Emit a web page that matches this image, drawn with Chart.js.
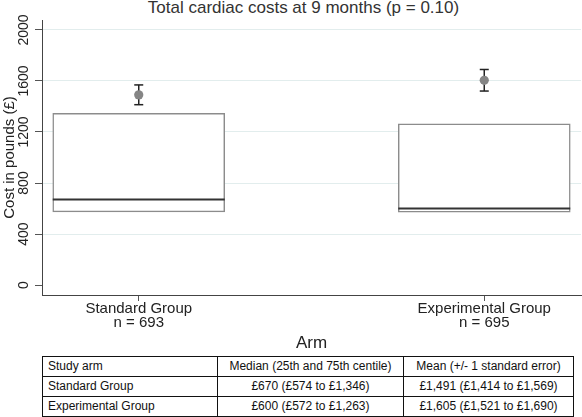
<!DOCTYPE html>
<html>
<head>
<meta charset="utf-8">
<script src="https://cdn.jsdelivr.net/npm/chart.js@4.4.1/dist/chart.umd.min.js"></script>
<style>
  body { margin: 0; background: #fff; overflow: hidden; font-family: "Liberation Sans", Arial, sans-serif; }
  #title { position: absolute; left: 0; top: -1px; width: 607px; text-align: center; font-size: 17px; line-height: 17px; color: #333; }
  #wrap { position: absolute; left: 0; top: 0; width: 582px; height: 354px; }
  #summary { position: absolute; left: 42px; top: 356px; width: 531px; table-layout: fixed; border-collapse: collapse; font-size: 12px; color: #111; }
  #summary td { border: 1px solid #111; height: 19px; padding: 0 5px; white-space: nowrap; overflow: hidden; line-height: 19px; }
  #summary td.c { text-align: center; }
</style>
</head>
<body>
<div id="title">Total cardiac costs at 9 months (p = 0.10)</div>
<div id="wrap"><canvas id="chart"></canvas></div>
<table id="summary"></table>
<script>
// Datos
const arms = ['Standard Group', 'Experimental Group'];
const nCounts = [693, 695];
const q1 = [574, 572];
const medians = [670, 600];
const q3 = [1346, 1263];
const means = [1491, 1605];
const seLow = [1414, 1521];
const seHigh = [1569, 1690];
const yTicks = [0, 400, 800, 1200, 1600, 2000];

const fontFamily = '"Liberation Sans", Arial, sans-serif';
const money = v => '£' + v.toLocaleString('en-GB');

// Barras de error: una serie por brazo
const errorSets = arms.map((a, i) => ({
    type: 'line',
    data: [{ x: i, y: seLow[i] }, { x: i, y: seHigh[i] }],
    borderColor: '#222',
    borderWidth: 1.5,
    pointStyle: 'line',
    pointRadius: 4.5,
    pointBorderColor: '#222',
    pointBorderWidth: 1.5,
    fill: false,
    order: 1
}));

const ctx = document.getElementById('chart').getContext('2d');
new Chart(ctx, {
    type: 'bar',
    data: {
        datasets: [
            {
                type: 'scatter',
                data: arms.map((a, i) => ({ x: i, y: means[i] })),
                pointRadius: 4.6,
                backgroundColor: '#858585',
                borderWidth: 0,
                order: 0
            },
            ...errorSets,
            {
                type: 'scatter',
                data: arms.map((a, i) => ({ x: i, y: medians[i] })),
                pointStyle: 'line',
                pointRadius: 86,
                borderColor: '#333',
                borderWidth: 2,
                order: 2
            },
            {
                type: 'bar',
                data: arms.map((a, i) => ({ x: i, y: [q1[i], q3[i]] })),
                backgroundColor: '#fff',
                borderColor: '#8c8c8c',
                borderWidth: 1.5,
                borderSkipped: false,
                barThickness: 172,
                order: 3
            }
        ]
    },
    options: {
        responsive: true,
        maintainAspectRatio: false,
        animation: false,
        layout: { autoPadding: false, padding: { top: 20, right: 1, left: 0, bottom: 0 } },
        plugins: { legend: { display: false }, tooltip: { enabled: false } },
        scales: {
            x: {
                type: 'linear',
                offset: false,
                min: -0.28,
                max: 1.28,
                afterBuildTicks: ax => { ax.ticks = arms.map((a, i) => ({ value: i })); },
                afterFit: ax => {
                    ax.height = 59;
                    ax.paddingLeft = 0;
                    ax.paddingRight = 0;
                },
                grid: { drawOnChartArea: false, offset: false, tickLength: 6, tickColor: '#555' },
                border: { color: '#444', width: 1 },
                ticks: {
                    autoSkip: false,
                    maxRotation: 0,
                    padding: 1,
                    color: '#222',
                    font: { family: fontFamily, size: 15, lineHeight: '14px' },
                    callback: (v, i) => [arms[i], 'n = ' + nCounts[i]]
                },
                title: {
                    display: true,
                    text: 'Arm',
                    color: '#222',
                    font: { family: fontFamily, size: 17, lineHeight: 1 },
                    padding: { top: 0, bottom: 2.5 }
                }
            },
            y: {
                min: -78,
                max: 2078,
                afterBuildTicks: ax => { ax.ticks = yTicks.map(v => ({ value: v })); },
                afterFit: ax => {
                    ax.width = 42;
                    ax.paddingTop = 0;
                    ax.paddingBottom = 0;
                },
                grid: {
                    color: c => (c.tick && c.tick.value === 0) ? 'rgba(0,0,0,0)' : '#e2eded',
                    tickLength: 7,
                    tickColor: '#555'
                },
                border: { color: '#444', width: 1 },
                ticks: {
                    autoSkip: false,
                    minRotation: 90,
                    maxRotation: 90,
                    crossAlign: 'center',
                    padding: -4.6,
                    color: '#222',
                    font: { family: fontFamily, size: 14 },
                    callback: v => String(v)
                },
                title: {
                    display: true,
                    text: 'Cost in pounds (£)',
                    color: '#222',
                    font: { family: fontFamily, size: 15, lineHeight: 1.2 },
                    padding: { top: 1, bottom: 0 }
                }
            }
        }
    }
});

// Tabla resumen bajo la grafica
const table = document.getElementById('summary');
const widths = [175, 186, 170];
let html = '<colgroup>' + widths.map(w => '<col style="width:' + w + 'px">').join('') + '</colgroup>';
html += '<tr><td>Study arm</td>' +
    '<td class="c">Median (25th and 75th centile)</td>' +
    '<td class="c">Mean (+/- 1 standard error)</td></tr>';
arms.forEach((a, i) => {
    html += '<tr><td>' + a + '</td>' +
        '<td class="c">' + money(medians[i]) + ' (' + money(q1[i]) + ' to ' + money(q3[i]) + ')</td>' +
        '<td class="c">' + money(means[i]) + ' (' + money(seLow[i]) + ' to ' + money(seHigh[i]) + ')</td></tr>';
});
table.innerHTML = html;
</script>
</body>
</html>
